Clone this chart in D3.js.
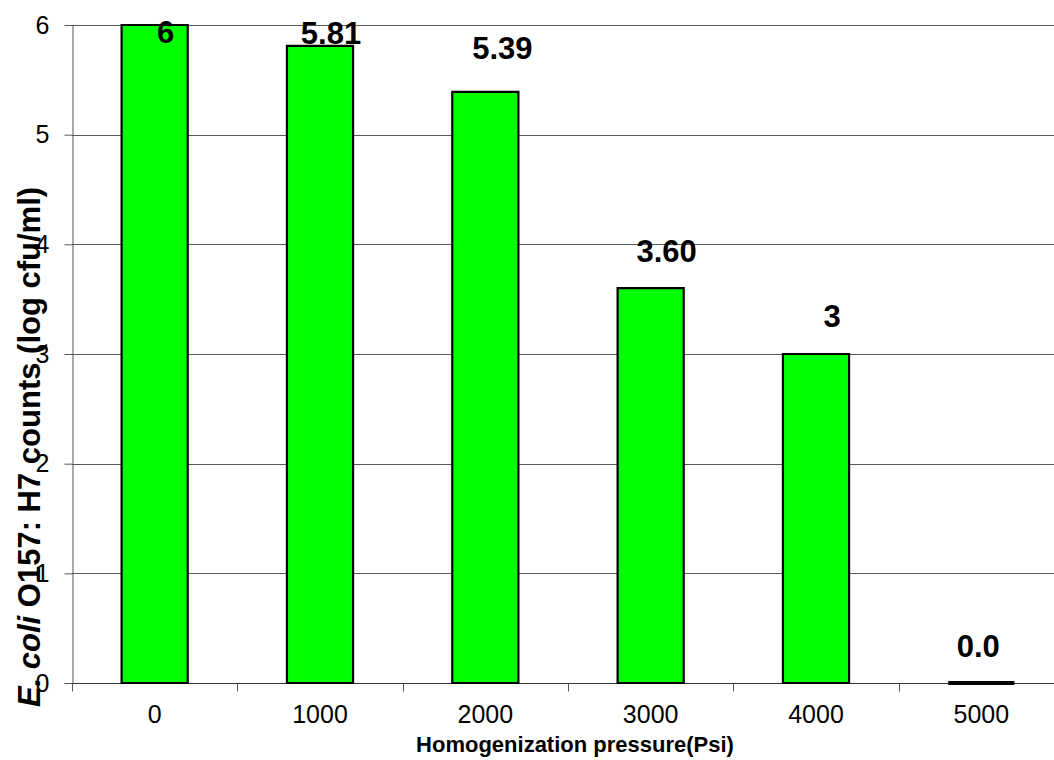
<!DOCTYPE html>
<html>
<head>
<meta charset="utf-8">
<script src="https://cdn.jsdelivr.net/npm/d3@7"></script>
<style>
  html, body { margin: 0; padding: 0; background: #fff; }
  svg { display: block; font-family: "Liberation Sans", Arial, sans-serif; }
</style>
</head>
<body>
<svg id="chart" width="1054" height="760"></svg>
<script>
// Homogenization pressure levels and surviving E. coli O157:H7 counts
const categories = ["0", "1000", "2000", "3000", "4000", "5000"];
const counts = [6, 5.81, 5.39, 3.60, 3, 0.0];
const valueLabels = ["6", "5.81", "5.39", "3.60", "3", "0.0"];
const yTicks = [0, 1, 2, 3, 4, 5, 6];

// hand-placed label nudges (dx from bar centre, dy from bar top)
const labelNudge = [[11, 18], [11, -2], [17, -33], [16, -26], [16, -27], [-3, -26]];

const svg = d3.select("#chart");
const plot = { left: 72, right: 1064, top: 25, bottom: 683 };

const x = d3.scaleBand()
  .domain(categories)
  .range([plot.left, plot.right])
  .paddingInner(0.6)
  .paddingOuter(0.3);

const y = d3.scaleLinear().domain([0, 6]).range([plot.bottom, plot.top]);

// horizontal gridlines
svg.append("g")
  .selectAll("line")
  .data(yTicks.filter(d => d > 0))
  .join("line")
  .attr("x1", plot.left).attr("x2", plot.right)
  .attr("y1", d => Math.round(y(d)) + 0.5).attr("y2", d => Math.round(y(d)) + 0.5)
  .attr("stroke", "#5a5a5a").attr("stroke-width", 1);

// y axis
const yAxis = svg.append("g")
  .attr("transform", `translate(${plot.left + 0.5},0)`)
  .call(d3.axisLeft(y).tickValues(yTicks).tickFormat(d3.format("d"))
    .tickSize(8).tickSizeOuter(0).tickPadding(15));
yAxis.select(".domain").attr("stroke", "#555");
yAxis.selectAll(".tick line").attr("stroke", "#555");
yAxis.selectAll("text").attr("font-size", 25).attr("fill", "#000")
  .attr("font-family", "Liberation Sans, Arial, sans-serif");

// x axis: labels at category centres, ticks at category boundaries
const xAxis = svg.append("g")
  .attr("transform", `translate(0,${plot.bottom + 0.5})`)
  .call(d3.axisBottom(x).tickSizeInner(0).tickSizeOuter(0).tickPadding(22));
xAxis.select(".domain").attr("stroke", "#333").attr("d", `M${plot.left},0H${plot.right}`);
xAxis.selectAll(".tick line").remove();
xAxis.selectAll("text").attr("font-size", 25).attr("fill", "#000")
  .attr("font-family", "Liberation Sans, Arial, sans-serif");

const boundaries = d3.range(categories.length + 1).map(i => plot.left + i * x.step());
xAxis.append("g").selectAll("line")
  .data(boundaries)
  .join("line")
  .attr("x1", d => Math.round(d) + 0.5).attr("x2", d => Math.round(d) + 0.5)
  .attr("y1", 0).attr("y2", 8)
  .attr("stroke", "#555");

// bars (drawn as paths so a zero-height bar still shows its outline)
const barData = categories.map((c, i) => ({ c, v: counts[i], label: valueLabels[i], nudge: labelNudge[i] }));
svg.append("g")
  .selectAll("path")
  .data(barData)
  .join("path")
  .attr("d", d => {
    const x0 = x(d.c), x1 = x(d.c) + x.bandwidth();
    return `M${x0},${y(0)}V${y(d.v)}H${x1}V${y(0)}Z`;
  })
  .attr("fill", "#00ff00")
  .attr("stroke", "#000")
  .attr("stroke-width", d => d.v === 0 ? 4 : 2.2)
  .attr("stroke-linejoin", "miter");

// value labels
svg.append("g")
  .selectAll("text")
  .data(barData)
  .join("text")
  .attr("x", d => x(d.c) + x.bandwidth() / 2 + d.nudge[0])
  .attr("y", d => y(d.v) + d.nudge[1])
  .attr("text-anchor", "middle")
  .attr("font-size", 31)
  .attr("font-weight", "bold")
  .attr("fill", "#000")
  .text(d => d.label);

// axis titles
svg.append("text")
  .attr("x", 575)
  .attr("y", 752)
  .attr("text-anchor", "middle")
  .attr("font-size", 22)
  .attr("font-weight", "bold")
  .attr("fill", "#000")
  .text("Homogenization pressure(Psi)");

const yTitle = svg.append("text")
  .attr("transform", "translate(40,447) rotate(-90)")
  .attr("text-anchor", "middle")
  .attr("font-size", 31)
  .attr("font-weight", "bold")
  .attr("fill", "#000");
yTitle.append("tspan").attr("font-style", "italic").text("E. coli");
yTitle.append("tspan").text(" O157: H7 counts (log cfu/ml)");
</script>
</body>
</html>
